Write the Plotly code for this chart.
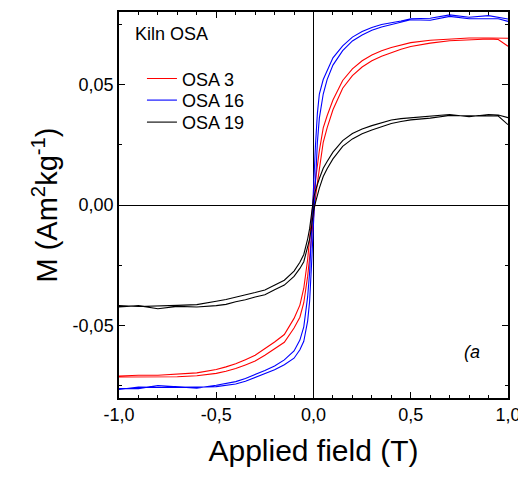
import plotly.graph_objects as go

# Applied field grid (T)
H = [-1.0, -0.9, -0.8, -0.7, -0.6, -0.5, -0.45, -0.4, -0.35, -0.3, -0.25, -0.2,
     -0.15, -0.1, -0.07, -0.05, -0.03, -0.02, -0.01, 0.0, 0.01, 0.02, 0.03, 0.05,
     0.07, 0.1, 0.15, 0.2, 0.25, 0.3, 0.35, 0.4, 0.45, 0.5, 0.6, 0.7, 0.8, 0.9, 0.95, 1.0]

# OSA 3 (red): descending branch (upper) and ascending branch (lower), values at H
osa3_desc = [-0.0709, -0.0706, -0.0706, -0.0702, -0.0696, -0.0682, -0.0671, -0.0658, -0.0641, -0.0623,
             -0.0597, -0.0568, -0.0537, -0.0470, -0.0415, -0.0345, -0.0225, -0.0142, -0.0055, 0.0040,
             0.0110, 0.0168, 0.0225, 0.0320, 0.0370, 0.0435, 0.0516, 0.0564, 0.0598, 0.0622,
             0.0639, 0.0653, 0.0664, 0.0673, 0.0683, 0.0689, 0.0692, 0.0692, 0.0690, 0.0691]
osa3_asc = [-0.0713, -0.0712, -0.0714, -0.0712, -0.0708, -0.0698, -0.0689, -0.0678, -0.0663, -0.0647,
            -0.0623, -0.0596, -0.0569, -0.0510, -0.0465, -0.0405, -0.0295, -0.0218, -0.0135, -0.0040,
            0.0030, 0.0092, 0.0155, 0.0260, 0.0320, 0.0395, 0.0484, 0.0536, 0.0572, 0.0598,
            0.0617, 0.0633, 0.0646, 0.0657, 0.0671, 0.0681, 0.0686, 0.0688, 0.0686, 0.0658]

# OSA 16 (blue)
osa16_desc = [-0.0761, -0.0761, -0.0748, -0.0753, -0.0759, -0.0747, -0.0741, -0.0732, -0.0719, -0.0704,
              -0.0686, -0.0667, -0.0642, -0.0605, -0.0560, -0.0505, -0.0380, -0.0280, -0.0115, 0.0070,
              0.0245, 0.0380, 0.0460, 0.0520, 0.0560, 0.0610, 0.0660, 0.0696, 0.0719, 0.0736,
              0.0748, 0.0756, 0.0763, 0.0772, 0.0774, 0.0788, 0.0778, 0.0785, 0.0778, 0.0771]
osa16_asc = [-0.0765, -0.0755, -0.0756, -0.0757, -0.0755, -0.0753, -0.0749, -0.0742, -0.0731, -0.0716,
             -0.0700, -0.0683, -0.0662, -0.0635, -0.0600, -0.0565, -0.0480, -0.0400, -0.0245, -0.0070,
             0.0115, 0.0260, 0.0360, 0.0460, 0.0520, 0.0580, 0.0640, 0.0680, 0.0705, 0.0724,
             0.0738, 0.0748, 0.0757, 0.0768, 0.0766, 0.0782, 0.0772, 0.0773, 0.0772, 0.0761]

# OSA 19 (black)
osa19_desc = [-0.0417, -0.0421, -0.0418, -0.0416, -0.0413, -0.0399, -0.0392, -0.0383, -0.0373, -0.0363,
              -0.0352, -0.0333, -0.0312, -0.0274, -0.0237, -0.0205, -0.0140, -0.0098, -0.0040, 0.0025,
              0.0060, 0.0087, 0.0110, 0.0152, 0.0180, 0.0219, 0.0267, 0.0296, 0.0315, 0.0329,
              0.0341, 0.0352, 0.0358, 0.0363, 0.0368, 0.0375, 0.0366, 0.0375, 0.0373, 0.0362]
osa19_asc = [-0.0423, -0.0417, -0.0430, -0.0420, -0.0423, -0.0417, -0.0412, -0.0401, -0.0393, -0.0381,
             -0.0372, -0.0351, -0.0332, -0.0296, -0.0263, -0.0235, -0.0180, -0.0142, -0.0090, -0.0025,
             0.0010, 0.0043, 0.0070, 0.0118, 0.0150, 0.0191, 0.0243, 0.0274, 0.0295, 0.0311,
             0.0325, 0.0338, 0.0346, 0.0353, 0.0360, 0.0371, 0.0370, 0.0369, 0.0369, 0.0333]

series_names = ["OSA 3", "OSA 16", "OSA 19"]
series_colors = ["#ff0000", "#0000ff", "#000000"]
series_desc = [osa3_desc, osa16_desc, osa19_desc]
series_asc = [osa3_asc, osa16_asc, osa19_asc]

x_tickvals = [-1.0, -0.5, 0.0, 0.5, 1.0]
x_ticktext = ["-1,0", "-0,5", "0,0", "0,5", "1,0"]
y_tickvals = [-0.05, 0.0, 0.05]
y_ticktext = ["-0,05", "0,00", "0,05"]

FONT = "Liberation Sans, Arial, sans-serif"

legend_ids = ["legend", "legend2", "legend3"]
legend_rows_y = [0.827, 0.771, 0.714]

fig = go.Figure()
for name, color, desc, asc, lid in zip(series_names, series_colors, series_desc, series_asc, legend_ids):
    xs = list(reversed(H)) + list(H)
    ys = list(reversed(desc)) + list(asc)
    fig.add_trace(go.Scatter(x=xs, y=ys, mode="lines", name=name, legend=lid,
                             line=dict(color=color, width=1.1)))

axis_common = dict(
    showline=True, linecolor="black", linewidth=1.5, mirror="allticks",
    ticks="inside", ticklen=6, tickwidth=1.2, tickcolor="black",
    showgrid=False, zeroline=True, zerolinecolor="black", zerolinewidth=1.3,
    tickfont=dict(family=FONT, size=18, color="black"),
)

legend_common = dict(x=0.059, xanchor="left", yanchor="middle",
                     bgcolor="rgba(0,0,0,0)", borderwidth=0,
                     font=dict(family=FONT, size=18, color="black"))

fig.update_layout(
    width=526, height=478,
    paper_bgcolor="white", plot_bgcolor="white",
    margin=dict(l=111, r=26, t=2, b=88),
    font=dict(family=FONT, color="black"),
    xaxis=dict(range=[-1, 1], tickvals=x_tickvals, ticktext=x_ticktext,
               minor=dict(dtick=0.1, ticks="inside", ticklen=3.5, tickcolor="black"),
               title=dict(text="Applied field (T)", font=dict(family=FONT, size=30), standoff=16),
               **axis_common),
    yaxis=dict(range=[-0.08, 0.08], tickvals=y_tickvals, ticktext=y_ticktext,
               minor=dict(dtick=0.025, tick0=0, ticks="inside", ticklen=3.5, tickcolor="black"),
               title=dict(text="M (Am<sup>2</sup>kg<sup>-1</sup>)", font=dict(family=FONT, size=29), standoff=6),
               **axis_common),
    showlegend=True,
    legend=dict(y=legend_rows_y[0], **legend_common),
    legend2=dict(y=legend_rows_y[1], **legend_common),
    legend3=dict(y=legend_rows_y[2], **legend_common),
    annotations=[
        dict(text="Kiln OSA", xref="paper", yref="paper", x=0.037, y=0.943,
             xanchor="left", yanchor="middle", showarrow=False,
             font=dict(family=FONT, size=18, color="black")),
        dict(text="<i>(a</i>", xref="paper", yref="paper", x=0.9075, y=0.1186,
             xanchor="center", yanchor="middle", showarrow=False,
             font=dict(family=FONT, size=18, color="black")),
    ],
)

fig.write_html("out.html")
